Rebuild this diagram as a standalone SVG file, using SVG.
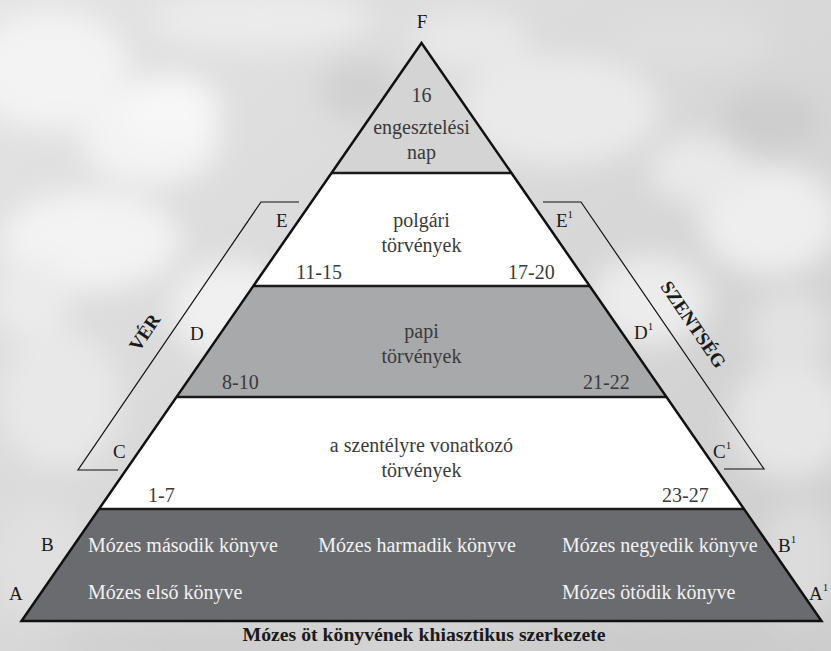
<svg xmlns="http://www.w3.org/2000/svg" width="831" height="651" viewBox="0 0 831 651">
  <defs>
    <filter id="blur" x="-50%" y="-50%" width="200%" height="200%">
      <feGaussianBlur stdDeviation="14"/>
    </filter>
    <linearGradient id="sky" x1="0" y1="0" x2="1" y2="1">
      <stop offset="0" stop-color="#e4e4e4"/>
      <stop offset="0.5" stop-color="#d8d8d8"/>
      <stop offset="1" stop-color="#cdcdcd"/>
    </linearGradient>
    <style>
      .t { font-family: "Liberation Serif", "Times New Roman", serif; font-size: 20px; fill: #3a3a3a; }
      .c { text-anchor: middle; }
      .w { fill: #f2f2f2; }
      .lab { font-family: "Liberation Serif", "Times New Roman", serif; font-size: 19px; fill: #1a1a1a; }
      .sup { font-size: 11px; }
      .b { font-weight: bold; }
      .band { stroke: none; }
      .sep { stroke: #1a1a1a; stroke-width: 2.5; fill: none; }
      .outline { stroke: #111; stroke-width: 2.5; fill: none; stroke-linejoin: miter; }
      .br { stroke: #111; stroke-width: 1.2; fill: none; }
    </style>
  </defs>

  <!-- cloudy sky background -->
  <g id="background">
    <rect x="0" y="0" width="831" height="651" fill="url(#sky)"/>
    <g filter="url(#blur)" fill="#f3f3f3">
      <ellipse cx="50" cy="70" rx="80" ry="60"/>
      <ellipse cx="150" cy="140" rx="70" ry="45"/>
      <ellipse cx="90" cy="240" rx="90" ry="50"/>
      <ellipse cx="170" cy="110" rx="50" ry="35" fill="#f7f7f7"/>
      <ellipse cx="260" cy="20" rx="110" ry="30" fill="#ebebeb"/>
      <ellipse cx="560" cy="110" rx="100" ry="55" fill="#eaeaea"/>
      <ellipse cx="470" cy="40" rx="60" ry="30" fill="#e8e8e8"/>
      <ellipse cx="690" cy="40" rx="80" ry="30" fill="#dedede"/>
      <ellipse cx="770" cy="220" rx="70" ry="55" fill="#eeeeee"/>
      <ellipse cx="700" cy="170" rx="50" ry="35" fill="#e9e9e9"/>
      <ellipse cx="60" cy="400" rx="60" ry="70" fill="#e8e8e8"/>
      <ellipse cx="30" cy="300" rx="40" ry="40" fill="#ebebeb"/>
      <ellipse cx="790" cy="420" rx="60" ry="60" fill="#e6e6e6"/>
      <ellipse cx="650" cy="300" rx="60" ry="45" fill="#ececec"/>
      <ellipse cx="230" cy="310" rx="60" ry="50" fill="#f0f0f0"/>
      <ellipse cx="40" cy="560" rx="50" ry="60" fill="#e0e0e0"/>
      <ellipse cx="800" cy="560" rx="40" ry="60" fill="#dcdcdc"/>
      <ellipse cx="790" cy="330" rx="40" ry="40" fill="#e2e2e2"/>
    </g>
    <g filter="url(#blur)" fill="#c4c4c4" opacity="0.5">
      <ellipse cx="770" cy="120" rx="50" ry="30"/>
      <ellipse cx="360" cy="90" rx="40" ry="30"/>
      <ellipse cx="200" cy="645" rx="150" ry="15"/>
      <ellipse cx="640" cy="645" rx="150" ry="15"/>
    </g>
  </g>

  <!-- pyramid bands -->
  <g id="band-F">
    <polygon class="band" points="421.5,43 511.5,173 331.5,173" fill="#d4d4d4"/>
    <text class="t c" x="421.5" y="102">16</text>
    <text class="t c" x="421.5" y="134">engesztelési</text>
    <text class="t c" x="421.5" y="159">nap</text>
  </g>
  <g id="band-E">
    <polygon class="band" points="331.5,173 511.5,173 589.7,286 253.3,286" fill="#ffffff"/>
    <text class="t c" x="421.5" y="227">polgári</text>
    <text class="t c" x="421.5" y="252">törvények</text>
    <text class="t" x="296" y="279">11-15</text>
    <text class="t" x="508" y="279">17-20</text>
  </g>
  <g id="band-D">
    <polygon class="band" points="253.3,286 589.7,286 666.5,397 176.5,397" fill="#a8a9ab"/>
    <text class="t c" x="421.5" y="338">papi</text>
    <text class="t c" x="421.5" y="363">törvények</text>
    <text class="t" x="222" y="389">8-10</text>
    <text class="t" x="583" y="389">21-22</text>
  </g>
  <g id="band-C">
    <polygon class="band" points="176.5,397 666.5,397 744,509 99,509" fill="#ffffff"/>
    <text class="t c" x="421.5" y="452">a szentélyre vonatkozó</text>
    <text class="t c" x="421.5" y="477">törvények</text>
    <text class="t" x="148" y="502">1-7</text>
    <text class="t" x="662" y="502">23-27</text>
  </g>
  <g id="band-AB">
    <polygon class="band" points="99,509 744,509 821.5,621 21.5,621" fill="#6a6b6e"/>
    <text class="t w" x="88" y="552">Mózes második könyve</text>
    <text class="t w c" x="417" y="552">Mózes harmadik könyve</text>
    <text class="t w" x="562" y="552">Mózes negyedik könyve</text>
    <text class="t w" x="88" y="599">Mózes első könyve</text>
    <text class="t w" x="562" y="599">Mózes ötödik könyve</text>
  </g>

  <!-- separators and outline -->
  <g id="connectors">
    <line class="sep" x1="331.5" y1="173" x2="511.5" y2="173"/>
    <line class="sep" x1="253.3" y1="286" x2="589.7" y2="286"/>
    <line class="sep" x1="176.5" y1="397" x2="666.5" y2="397"/>
    <line class="sep" x1="99" y1="509" x2="744" y2="509"/>
    <polygon class="outline" points="421.5,43 821.5,621 21.5,621"/>
    <polyline class="br" points="299,202 261,202 78,470 118,470"/>
    <polyline class="br" points="543,202 581,202 764,469 724,469"/>
  </g>

  <!-- letter labels -->
  <g id="labels">
    <text class="lab c" x="422" y="28">F</text>
    <text class="lab" x="276" y="227">E</text>
    <text class="lab" x="556" y="227">E<tspan class="sup" dy="-9">1</tspan></text>
    <text class="lab" x="190" y="340">D</text>
    <text class="lab" x="634" y="339">D<tspan class="sup" dy="-9">1</tspan></text>
    <text class="lab" x="113" y="458">C</text>
    <text class="lab" x="713" y="458">C<tspan class="sup" dy="-9">1</tspan></text>
    <text class="lab" x="41" y="551">B</text>
    <text class="lab" x="778" y="552">B<tspan class="sup" dy="-9">1</tspan></text>
    <text class="lab" x="9" y="600">A</text>
    <text class="lab" x="809" y="600">A<tspan class="sup" dy="-9">1</tspan></text>
  </g>

  <g id="side-labels">
    <text class="lab b c" font-size="18" transform="translate(150,336) rotate(-55.7)">VÉR</text>
    <text class="lab b c" font-size="18" transform="translate(688,328) rotate(55.7)">SZENTSÉG</text>
  </g>

  <g id="caption">
    <text class="lab b c" font-size="20" x="424" y="641" textLength="363" lengthAdjust="spacingAndGlyphs">Mózes öt könyvének khiasztikus szerkezete</text>
  </g>
</svg>
